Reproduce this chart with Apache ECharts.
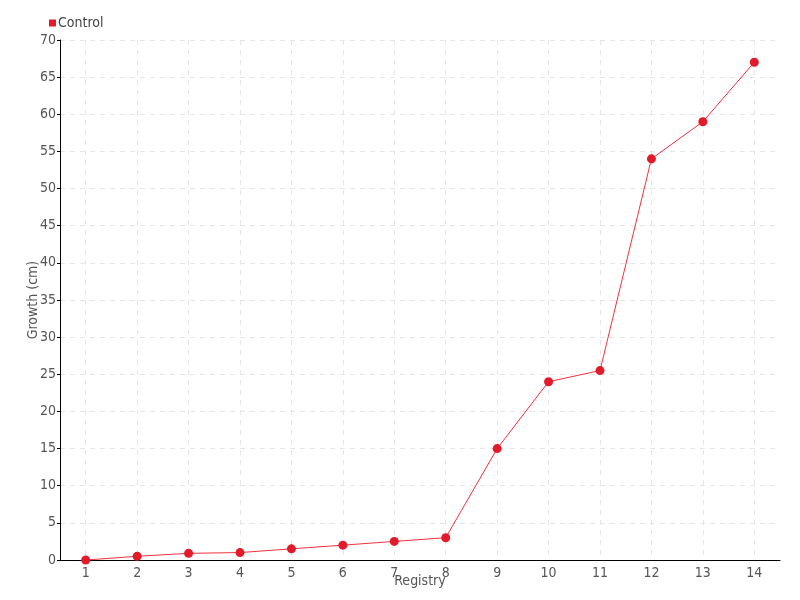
<!DOCTYPE html>
<html><head><meta charset="utf-8">
<script src="https://cdn.jsdelivr.net/npm/echarts@6/dist/echarts.min.js"></script>
<style>html,body{margin:0;padding:0;background:#fff}#c{width:800px;height:600px}</style>
</head><body><div id="c"></div>
<script>
var categories = ['1','2','3','4','5','6','7','8','9','10','11','12','13','14'];
var controlValues = [0, 0.5, 0.9, 1.0, 1.5, 2.0, 2.5, 3.0, 15, 24, 25.5, 54, 59, 67];
var seriesName = 'Control';
var FONT = '"DejaVu Sans Condensed", "Liberation Sans Narrow", sans-serif';
// helper axis (half-steps) so vertical grid lines sit on category centres
var halfSteps = [];
for (var i = 0; i <= categories.length * 2; i++) halfSteps.push(String(i));
var chart = echarts.init(document.getElementById('c'));
chart.setOption({
  animation: false,
  backgroundColor: '#fff',
  textStyle: { fontFamily: FONT },
  legend: {
    left: 44, top: 11, itemWidth: 7, itemHeight: 7, itemGap: 4,
    icon: 'rect',
    textStyle: { fontFamily: FONT, fontSize: 14, color: '#444', padding: [0,0,0,-3] },
    data: [seriesName]
  },
  grid: { left: 60, right: 20, top: 40, bottom: 40, outerBoundsMode: 'none', containLabel: false },
  xAxis: [{
    type: 'category', data: categories, boundaryGap: true,
    name: 'Registry', nameLocation: 'middle', nameGap: 14, nameMoveOverlap: false,
    nameTextStyle: { fontFamily: FONT, fontSize: 14, color: '#555' },
    axisLine: { lineStyle: { color: '#000', width: 1 } },
    axisTick: { alignWithLabel: true, length: 4, inside: true, lineStyle: { color: '#000' } },
    axisLabel: { fontFamily: FONT, fontSize: 14, color: '#555', margin: 6 },
    splitLine: { show: false }
  }, {
    type: 'category', data: halfSteps, boundaryGap: false, position: 'bottom',
    axisLine: { show: false }, axisTick: { show: false }, axisLabel: { show: false },
    splitLine: { show: true, interval: function (idx) { return idx % 2 === 1; },
      lineStyle: { color: '#e6e6e6', type: [5, 5] } }
  }],
  yAxis: {
    type: 'value', min: 0, max: 70, interval: 5,
    name: 'Growth (cm)', nameLocation: 'middle', nameGap: 20, nameMoveOverlap: false,
    nameTextStyle: { fontFamily: FONT, fontSize: 14, color: '#555' },
    axisLine: { show: true, lineStyle: { color: '#000', width: 1 } },
    axisTick: { show: true, length: 3, lineStyle: { color: '#000' } },
    axisLabel: { fontFamily: FONT, fontSize: 14, color: '#555', margin: 4 },
    splitLine: { show: true, lineStyle: { color: '#e6e6e6', type: [5, 5] } }
  },
  series: [{
    name: seriesName, type: 'line', data: controlValues, xAxisIndex: 0, z: 3,
    symbol: 'circle', symbolSize: 9,
    itemStyle: { color: '#e31a2a' },
    lineStyle: { color: '#f0323f', width: 1 }
  }]
});
</script></body></html>
